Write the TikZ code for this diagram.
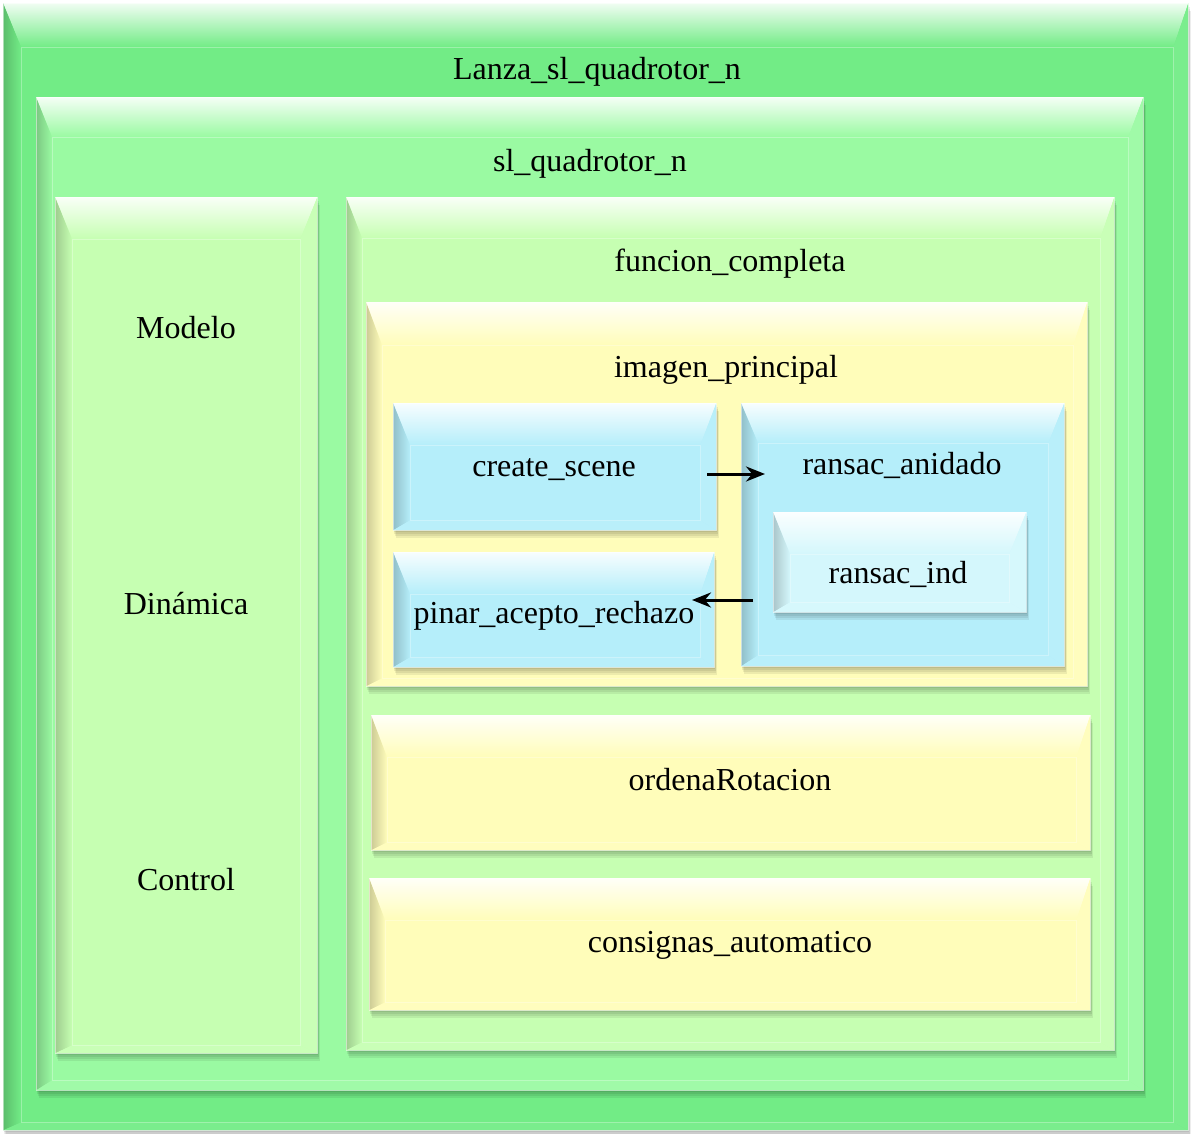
\documentclass[tikz,border=0pt]{standalone}
\usepackage{fontspec}
\setmainfont{Liberation Serif}
\usetikzlibrary{arrows.meta}

\definecolor{grnA}{RGB}{114,236,134}
\definecolor{grnB}{RGB}{154,250,162}
\definecolor{grnC}{RGB}{198,255,178}
\definecolor{ylw}{RGB}{255,253,186}
\definecolor{blu}{RGB}{181,238,250}
\definecolor{bluL}{RGB}{212,247,252}

\tikzset{
  box/.style={rectangle, inner sep=0pt, anchor=north west},
  lbl/.style={font=\fontsize{32}{38}\selectfont, inner sep=0pt, anchor=base},
  arr/.style={-{Stealth[length=19pt, width=15pt]}, line width=3pt}
}

% #1 node, #2 colour, #3 left, #4 top, #5 right, #6 bottom bevel
\newcommand{\bevel}[6]{%
  \foreach \s in {2,4,6,8}
    \fill[black, opacity=.07] ([shift={(\s/3,\s)}]#1.north west) rectangle ([shift={(\s/3,\s)}]#1.south east);
  \fill[#2] (#1.north west) rectangle (#1.south east);
  \coordinate (#1-a) at ([shift={(#3,#4)}]#1.north west);
  \coordinate (#1-b) at ([shift={(-#5,#4)}]#1.north east);
  \coordinate (#1-c) at ([shift={(-#5,-#6)}]#1.south east);
  \coordinate (#1-d) at ([shift={(#3,-#6)}]#1.south west);
  \shade[top color=#2!10!white, bottom color=#2] (#1.north west) -- (#1.north east) -- (#1-b) -- (#1-a) -- cycle;
  \shade[left color=#2!80!black, right color=#2] (#1.north west) -- (#1-a) -- (#1-d) -- (#1.south west) -- cycle;
  \fill[#2!94!white] (#1.north east) -- (#1.south east) -- (#1-c) -- (#1-b) -- cycle;
  \fill[#2!94!white] (#1.south west) -- (#1-d) -- (#1-c) -- (#1.south east) -- cycle;
  \draw[white, opacity=.3, line width=.8pt] (#1-a) rectangle (#1-c);
  \draw[white, opacity=.5, line width=.8pt] (#1.north west) rectangle (#1.south east);
}

\begin{document}
\begin{tikzpicture}[x=1pt, y=-1pt]
\useasboundingbox (0,0) rectangle (1191,1133);
\fill[white] (0,0) rectangle (1191,1133);

\node[box, minimum width=1185pt, minimum height=1127pt] (lanza) at (3,3) {};
\bevel{lanza}{grnA}{18}{44}{15}{8}
\node[box, minimum width=1107pt, minimum height=993pt] (slq) at (36,97) {};
\bevel{slq}{grnB}{16}{40}{15}{10}
\node[box, minimum width=262pt, minimum height=856pt] (modelo) at (55,197) {};
\bevel{modelo}{grnC}{17}{42}{17}{8}
\node[box, minimum width=768pt, minimum height=853pt] (funcion) at (346,197) {};
\bevel{funcion}{grnC}{16}{41}{14}{8}
\node[box, minimum width=721pt, minimum height=384pt] (imagen) at (366,302) {};
\bevel{imagen}{ylw}{16}{43}{14}{8}
\node[box, minimum width=323pt, minimum height=127pt] (create) at (393,403) {};
\bevel{create}{blu}{17}{42}{16}{10}
\node[box, minimum width=321pt, minimum height=115pt] (pinar) at (393,552) {};
\bevel{pinar}{blu}{17}{42}{14}{10}
\node[box, minimum width=323pt, minimum height=263pt] (anidado) at (741,403) {};
\bevel{anidado}{blu}{17}{40}{16}{11}
\node[box, minimum width=253pt, minimum height=100pt] (ind) at (773,512) {};
\bevel{ind}{bluL}{17}{42}{17}{10}
\node[box, minimum width=719pt, minimum height=135pt] (ordena) at (371,715) {};
\bevel{ordena}{ylw}{16}{42}{14}{8}
\node[box, minimum width=721pt, minimum height=132pt] (consignas) at (369,878) {};
\bevel{consignas}{ylw}{16}{42}{14}{8}

\node[lbl] (tlanza) at (597,79) {Lanza\_sl\_quadrotor\_n};
\node[lbl] (tslq) at (590,171) {sl\_quadrotor\_n};
\node[lbl] (tfuncion) at (730,271) {funcion\_completa};
\node[lbl] (tmodelo) at (186,338) {Modelo};
\node[lbl] (tdinamica) at (186,614) {Dinámica};
\node[lbl] (tcontrol) at (186,890) {Control};
\node[lbl] (timagen) at (726,377) {imagen\_principal};
\node[lbl] (tcreate) at (554,476) {create\_scene};
\node[lbl] (tanidado) at (902,474) {ransac\_anidado};
\node[lbl] (tind) at (898,583) {ransac\_ind};
\node[lbl] (tpinar) at (554,623) {pinar\_acepto\_rechazo};
\node[lbl] (tordena) at (730,790) {ordenaRotacion};
\node[lbl] (tconsignas) at (730,952) {consignas\_automatico};

\coordinate (csout) at (707,474);
\coordinate (anin) at (765,474);
\coordinate (anout) at (753,600);
\coordinate (pin) at (692,600);
\draw[arr] (csout) -- (anin);
\draw[arr] (anout) -- (pin);
\end{tikzpicture}
\end{document}
